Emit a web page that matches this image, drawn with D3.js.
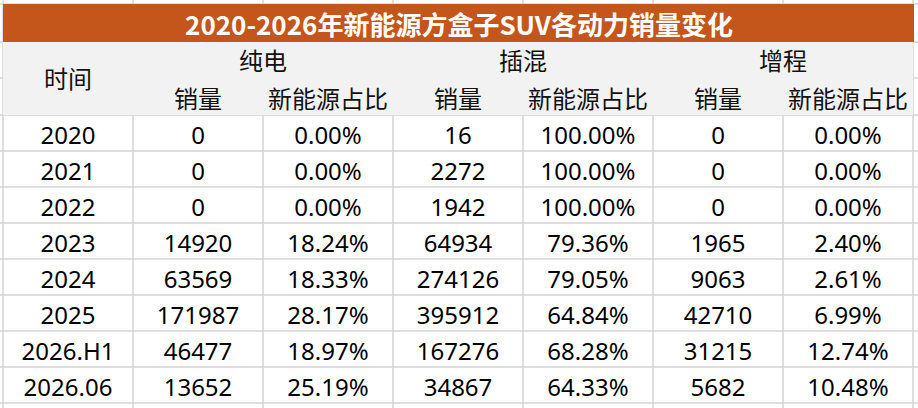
<!DOCTYPE html>
<html>
<head>
<meta charset="utf-8">
<script src="https://cdn.jsdelivr.net/npm/d3@7"></script>
<style>
  html, body { margin: 0; padding: 0; background: #fff; }
  svg { display: block; font-family: "Noto Sans", "Noto Sans CJK SC", sans-serif; }
</style>
</head>
<body>
<svg id="chart"></svg>
<script>
// table data
var title = "2020-2026年新能源方盒子SUV各动力销量变化";
var periods = ["2020", "2021", "2022", "2023", "2024", "2025", "2026.H1", "2026.06"];
var groups = ["纯电", "插混", "增程"];
var subHeads = ["销量", "新能源占比"];
var bevSales = [0, 0, 0, 14920, 63569, 171987, 46477, 13652];
var bevShare = [0, 0, 0, 18.24, 18.33, 28.17, 18.97, 25.19];
var phevSales = [16, 2272, 1942, 64934, 274126, 395912, 167276, 34867];
var phevShare = [100, 100, 100, 79.36, 79.05, 64.84, 68.28, 64.33];
var erevSales = [0, 0, 0, 1965, 9063, 42710, 31215, 5682];
var erevShare = [0, 0, 0, 2.40, 2.61, 6.99, 12.74, 10.48];

var W = 918, H = 408;
var svg = d3.select("#chart").attr("width", W).attr("height", H);

var cols = d3.range(7);
var x = d3.scaleBand().domain(cols).range([3, 913]);
var y = d3.scaleBand().domain(periods).range([115, 403]);
var pct = function (v) { return d3.format(".2f")(v) + "%"; };

var rows = periods.map(function (p, i) {
  return [p, bevSales[i], pct(bevShare[i]), phevSales[i], pct(phevShare[i]), erevSales[i], pct(erevShare[i])];
});

var gridColor = "#d4d4d4";

// spreadsheet grid behind everything
var gridX = cols.map(function (c) { return x(c); }).concat([x(6) + x.bandwidth()]);
var gridY = [4, 42, 78, 115].concat(periods.map(function (p) { return y(p) + y.bandwidth(); }));
svg.append("g").selectAll("line.v")
    .data(gridX)
  .enter().append("line")
    .attr("x1", function (d) { return d; })
    .attr("x2", function (d) { return d; })
    .attr("y1", 0).attr("y2", H)
    .attr("stroke", gridColor).attr("stroke-width", 1.5);
svg.append("g").selectAll("line.h")
    .data(gridY)
  .enter().append("line")
    .attr("x1", 0).attr("x2", W)
    .attr("y1", function (d) { return d; })
    .attr("y2", function (d) { return d; })
    .attr("stroke", gridColor).attr("stroke-width", 1.5);

// header block
svg.append("rect")
    .attr("x", 3).attr("y", 42)
    .attr("width", 910).attr("height", 73)
    .attr("fill", "#f2f2f2");

// title bar
svg.append("rect")
    .attr("x", 3).attr("y", 4)
    .attr("width", 911).attr("height", 38)
    .attr("fill", "#c4561b");
svg.append("text")
    .attr("x", 459).attr("y", 23)
    .attr("text-anchor", "middle")
    .attr("dominant-baseline", "central")
    .attr("fill", "#fff")
    .attr("font-family", "Noto Sans CJK SC")
    .attr("font-weight", "bold")
    .attr("font-size", 26)
    .text(title);

var head = svg.append("g").attr("font-size", 24).attr("fill", "#111")
    .attr("text-anchor", "middle").attr("dominant-baseline", "central");

head.append("text")
    .attr("x", x(0) + x.bandwidth() / 2).attr("y", 78)
    .text("时间");

head.selectAll("text.grp")
    .data(groups)
  .enter().append("text")
    .attr("class", "grp")
    .attr("x", function (d, i) { return x(1 + i * 2) + x.bandwidth(); })
    .attr("y", 60)
    .text(function (d) { return d; });

head.selectAll("text.sub")
    .data(d3.range(6))
  .enter().append("text")
    .attr("class", "sub")
    .attr("x", function (d) { return x(d + 1) + x.bandwidth() / 2; })
    .attr("y", 98)
    .text(function (d) { return subHeads[d % 2]; });

// body cells
var body = svg.append("g").attr("font-size", 24).attr("fill", "#000")
    .attr("text-anchor", "middle").attr("dominant-baseline", "central");

body.selectAll("g.row")
    .data(rows)
  .enter().append("g")
    .attr("class", "row")
    .attr("transform", function (d) { return "translate(0," + (y(d[0]) + y.bandwidth() / 2 + 1) + ")"; })
  .selectAll("text")
    .data(function (d) { return d; })
  .enter().append("text")
    .attr("x", function (d, i) { return x(i) + x.bandwidth() / 2; })
    .text(function (d) { return d; });
</script>
</body>
</html>
